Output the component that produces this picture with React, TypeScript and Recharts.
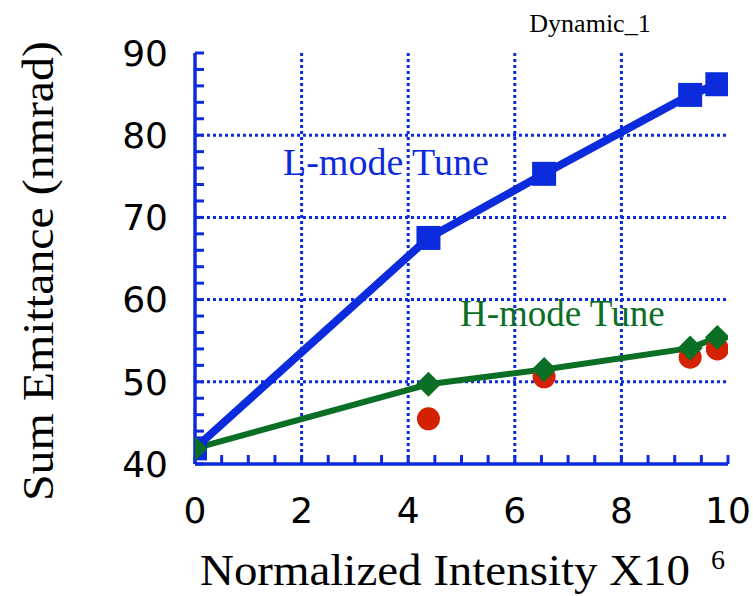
import React from 'react';
import { ComposedChart, Line, XAxis, YAxis, ReferenceLine } from 'recharts';

// intensity in units of 1e6, emittance in nm-rad
const intensity = [0, 4.38, 6.55, 9.29, 9.8];
const lModeTune = [41.9, 67.5, 75.3, 84.9, 86.2];
const hModeTune = [41.9, 49.7, 51.5, 54.1, 55.4];
const measured = [null, 45.5, 50.6, 53.0, 54.0];

const xTicks = [0, 0.5, 1, 1.5, 2, 2.5, 3, 3.5, 4, 4.5, 5, 5.5, 6, 6.5, 7, 7.5, 8, 8.5, 9, 9.5, 10];
const yTicks = [40, 42, 44, 46, 48, 50, 52, 54, 56, 58, 60, 62, 64, 66, 68, 70, 72, 74, 76, 78, 80, 82, 84, 86, 88, 90];
const xGrid = [2, 4, 6, 8];
const yGrid = [50, 60, 70, 80];

const BLUE = '#0b2bdc';
const GREEN = '#0a6e24';
const RED = '#d42200';
const SERIF = '"Liberation Serif", "Times New Roman", serif';
const SANS = '"DejaVu Sans", sans-serif';

const data = intensity.map((x, i) => ({
  x,
  lMode: lModeTune[i],
  hMode: hModeTune[i],
  measured: measured[i],
}));

const Square = (props: any) => {
  const { cx, cy, index } = props;
  if (cx == null || cy == null) return <g key={`sq-${index}`} />;
  return <rect key={`sq-${index}`} x={cx - 12} y={cy - 12} width={24} height={24} fill={BLUE} />;
};

const Diamond = (props: any) => {
  const { cx, cy, index } = props;
  if (cx == null || cy == null) return <g key={`dm-${index}`} />;
  const r = 12.5;
  return (
    <polygon
      key={`dm-${index}`}
      points={`${cx},${cy - r} ${cx + r},${cy} ${cx},${cy + r} ${cx - r},${cy}`}
      fill={GREEN}
    />
  );
};

const Dot = (props: any) => {
  const { cx, cy, index } = props;
  if (cx == null || cy == null) return <g key={`rd-${index}`} />;
  return <circle key={`rd-${index}`} cx={cx} cy={cy} r={11.5} fill={RED} />;
};

const axisLine = { stroke: BLUE, strokeWidth: 3.5 };
const tickLine = { stroke: BLUE, strokeWidth: 3 };

export default function App() {
  return (
    <div style={{ position: 'absolute', left: 0, top: 0, width: 753, height: 596, background: '#fff' }}>
      <ComposedChart
        width={753}
        height={596}
        data={data}
        margin={{ top: 53, right: 25, bottom: 72, left: 0 }}
      >
        <XAxis
          dataKey="x"
          type="number"
          domain={[0, 10]}
          ticks={xTicks}
          interval={0}
          allowDataOverflow
          height={60}
          axisLine={axisLine}
          tickLine={tickLine}
          tickSize={-9}
          tickMargin={42}
          tickFormatter={(v: number) => (v % 2 === 0 ? String(v) : '')}
          tick={{ fill: '#000', fontSize: 36, fontFamily: SANS }}
        />
        <XAxis
          xAxisId="top"
          dataKey="x"
          type="number"
          orientation="top"
          domain={[0, 10]}
          ticks={xTicks}
          interval={0}
          allowDataOverflow
          height={0}
          axisLine={axisLine}
          tickLine={tickLine}
          tickSize={-9}
          tick={false}
        />
        <YAxis
          type="number"
          domain={[40, 90]}
          ticks={yTicks}
          interval={0}
          allowDataOverflow
          width={195}
          axisLine={axisLine}
          tickLine={tickLine}
          tickSize={-9}
          tickMargin={36}
          tickFormatter={(v: number) => (v % 10 === 0 ? String(v) : '')}
          tick={{ fill: '#000', fontSize: 36, fontFamily: SANS }}
        />
        <YAxis
          yAxisId="right"
          type="number"
          orientation="right"
          domain={[40, 90]}
          ticks={yTicks}
          interval={0}
          allowDataOverflow
          width={0}
          axisLine={axisLine}
          tickLine={tickLine}
          tickSize={-9}
          tick={false}
        />
        {xGrid.map((v) => (
          <ReferenceLine key={`gx-${v}`} x={v} stroke={BLUE} strokeWidth={3} strokeDasharray="3 3" />
        ))}
        {yGrid.map((v) => (
          <ReferenceLine key={`gy-${v}`} y={v} stroke={BLUE} strokeWidth={3} strokeDasharray="3 3" />
        ))}
        <Line
          dataKey="lMode"
          stroke={BLUE}
          strokeWidth={8}
          dot={Square}
          activeDot={false}
          isAnimationActive={false}
        />
        <Line
          dataKey="measured"
          stroke="none"
          strokeWidth={0}
          dot={Dot}
          activeDot={false}
          isAnimationActive={false}
        />
        <Line
          dataKey="hMode"
          stroke={GREEN}
          strokeWidth={6}
          dot={Diamond}
          activeDot={false}
          isAnimationActive={false}
        />
      </ComposedChart>
      <svg
        width={753}
        height={596}
        style={{ position: 'absolute', left: 0, top: 0, pointerEvents: 'none' }}
      >
        <text x={590} y={32} textAnchor="middle" fontFamily={SERIF} fontSize={26} fill="#000">
          Dynamic_1
        </text>
        <text x={283} y={175} fontFamily={SERIF} fontSize={38} fill={BLUE}>
          L-mode Tune
        </text>
        <text x={460} y={326} fontFamily={SERIF} fontSize={37} fill={GREEN}>
          H-mode Tune
        </text>
        <text
          transform="translate(53, 271) rotate(-90)"
          textAnchor="middle"
          fontFamily={SERIF}
          fontSize={44}
          textLength={460}
          lengthAdjust="spacingAndGlyphs"
          fill="#000"
        >
          Sum Emittance (nmrad)
        </text>
        <text
          x={200}
          y={585}
          fontFamily={SERIF}
          fontSize={44}
          textLength={490}
          lengthAdjust="spacingAndGlyphs"
          fill="#000"
        >
          Normalized Intensity X10
        </text>
        <text x={711} y={569} fontFamily={SERIF} fontSize={28} fill="#000">
          6
        </text>
      </svg>
    </div>
  );
}
